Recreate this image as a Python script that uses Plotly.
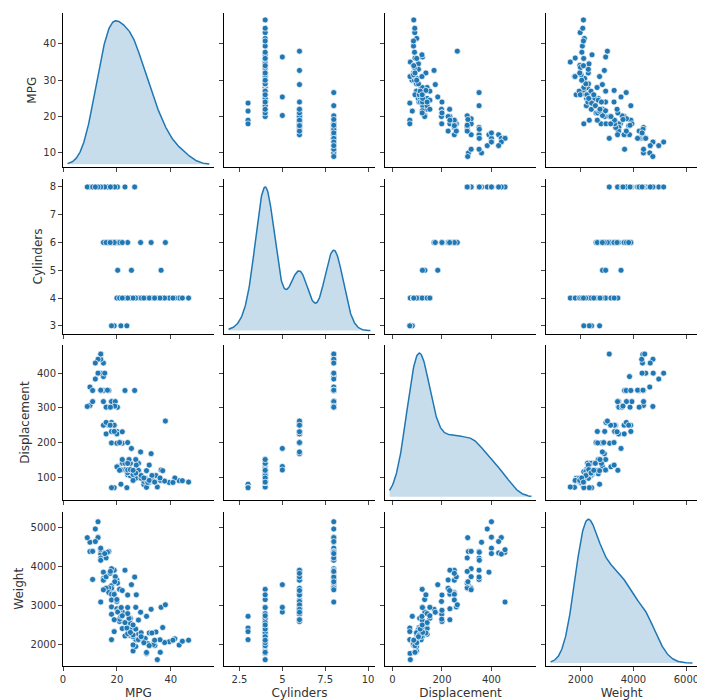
import numpy as np
import plotly.graph_objects as go
from plotly.subplots import make_subplots

# values (subset of the auto-mpg cars)
mpg = [18, 15, 18, 16, 17, 15, 14, 14, 14, 15, 24, 22, 18, 21, 27, 26, 25, 24, 25, 26,
       21, 10, 10, 11, 9, 27, 28, 25, 19, 16, 17, 19, 18, 14, 14, 14, 13, 12, 13, 18,
       22, 19, 18, 23, 28, 30, 30, 31, 35, 27, 26, 24, 29, 20, 19, 15, 24, 20, 11, 20,
       21, 19, 15, 31, 26, 32, 25, 16, 16, 18, 17, 19.4, 20.2, 25.4, 20.3, 36.4, 21.5, 23.7, 19, 18,
       30.5, 36.1, 39.4, 43.1, 41.5, 46.6, 44.3, 40.8, 37, 34.1, 38, 32.7, 28.8, 26.6, 23, 34.5,
       37.7, 32, 28, 31, 27, 33, 21.6, 20, 21, 17.5, 16.5, 15.5, 19.2, 24, 27.2, 14,
       29, 33.5, 24.5, 22, 13, 12, 17.6, 26, 36, 31.5,
       23, 25, 27, 29, 32, 30, 26, 24, 34, 22]
cylinders = [8, 8, 8, 8, 8, 8, 8, 8, 8, 8, 4, 6, 6, 6, 4, 4, 4, 4, 4, 4,
             6, 8, 8, 8, 8, 4, 4, 4, 6, 6, 6, 6, 6, 8, 8, 8, 8, 8, 8, 6,
             4, 6, 6, 4, 4, 4, 4, 4, 4, 4, 4, 4, 4, 6, 6, 8, 4, 6, 8, 6,
             6, 6, 6, 4, 4, 4, 4, 6, 8, 8, 8, 8, 8, 5, 5, 5, 3, 3, 3, 3,
             4, 4, 4, 4, 4, 4, 4, 4, 4, 4, 6, 6, 6, 8, 8, 4,
             4, 4, 4, 4, 4, 4, 4, 4, 4, 6, 8, 8, 8, 6, 4, 8,
             4, 4, 4, 6, 8, 8, 8, 4, 4, 4,
             4, 4, 4, 4, 4, 4, 4, 4, 4, 4]
displacement = [307, 350, 318, 304, 302, 429, 454, 440, 455, 390, 113, 198, 199, 200, 97, 97, 110, 107, 104, 121,
                199, 360, 307, 318, 304, 97, 140, 113, 232, 225, 250, 250, 232, 350, 400, 351, 400, 383, 400, 258,
                140, 250, 250, 122, 116, 79, 88, 71, 72, 97, 91, 113, 98, 232, 250, 318, 121, 225, 350, 198,
                200, 232, 250, 91, 116, 85, 140, 258, 302, 318, 350, 318, 302, 183, 131, 121, 80, 70, 70, 70,
                98, 91, 85, 90, 98, 86, 90, 85, 119, 86, 262, 168, 173, 350, 350, 105,
                89, 135, 120, 119, 151, 105, 121, 130, 120, 250, 351, 400, 305, 200, 135, 455,
                97, 89, 151, 231, 440, 429, 302, 108, 98, 85,
                140, 122, 112, 105, 91, 98, 120, 140, 86, 151]
weight = [3504, 3693, 3436, 3433, 3449, 4341, 4354, 4312, 4425, 3850, 2372, 2833, 2774, 2587, 2130, 1835, 2672, 2430, 2375, 2234,
          2648, 4615, 4376, 4382, 4732, 2130, 2264, 2228, 2634, 3439, 3329, 3302, 3288, 4209, 4464, 4154, 4746, 4955, 5140, 2962,
          2408, 3282, 3139, 2220, 2123, 2074, 2065, 1773, 1613, 1950, 1990, 2278, 2219, 2914, 3897, 3399, 2945, 3651, 3664, 3102,
          2875, 3901, 3645, 1795, 2202, 1990, 2542, 3730, 4215, 3940, 4380, 3735, 3570, 3530, 2830, 2950, 2720, 2420, 2330, 2124,
          2155, 1800, 2070, 1985, 2144, 2110, 2085, 2110, 2434, 1975, 3015, 2900, 2825, 3725, 3900, 2320,
          2050, 2295, 2625, 2720, 2950, 2295, 2945, 3150, 3410, 3820, 4360, 4325, 3605, 3265, 3270, 3086,
          2300, 2000, 2670, 3380, 4735, 4633, 3870, 2245, 2120, 2020,
          2560, 2310, 2395, 2200, 1970, 2045, 2500, 2790, 2110, 2735]

names = ["MPG", "Cylinders", "Displacement", "Weight"]
cols = [mpg, cylinders, displacement, weight]
xranges = [[0, 56], [1.6, 10.4], [-30, 580], [700, 6400]]
yranges = [[6, 48.5], [2.72, 8.28], [35, 480], [1450, 5400]]
xticks = [[0, 20, 40], [2.5, 5.0, 7.5, 10.0], [0, 200, 400], [2000, 4000, 6000]]
yticks = [[10, 20, 30, 40], [3, 4, 5, 6, 7, 8], [100, 200, 300, 400], [2000, 3000, 4000, 5000]]
blue = "#1f77b4"


def kde(v, grid, scale):
    v = np.asarray(v, float)
    bw = scale * v.std(ddof=1) * len(v) ** (-1 / 5)
    d = np.exp(-0.5 * ((grid[:, None] - v[None, :]) / bw) ** 2).sum(axis=1)
    return d / d.max()


bw_scale = [1.1, 0.85, 1.0, 1.1]

fig = make_subplots(rows=4, cols=4, horizontal_spacing=0.016, vertical_spacing=0.018)

for r in range(4):
    for c in range(4):
        if r == c:
            g = np.linspace(xranges[c][0] + 0.03 * (xranges[c][1] - xranges[c][0]),
                            xranges[c][1] - 0.03 * (xranges[c][1] - xranges[c][0]), 300)
            lo, hi = yranges[r]
            base = lo + 0.02 * (hi - lo)
            dens = base + kde(cols[c], g, bw_scale[c]) * (hi - lo) * 0.93
            fig.add_trace(go.Scatter(x=g, y=[base] * len(g), mode="lines",
                                     line=dict(width=0), hoverinfo="skip"), row=r + 1, col=c + 1)
            fig.add_trace(go.Scatter(x=g, y=dens, mode="lines", fill="tonexty",
                                     fillcolor="rgba(31,119,180,0.25)",
                                     line=dict(color=blue, width=1.5)), row=r + 1, col=c + 1)
        else:
            fig.add_trace(go.Scatter(x=cols[c], y=cols[r], mode="markers",
                                     marker=dict(color=blue, size=6,
                                                 line=dict(color="white", width=0.7))),
                          row=r + 1, col=c + 1)
        fig.update_xaxes(range=xranges[c], tickvals=xticks[c], showticklabels=(r == 3),
                         title_text=names[c] if r == 3 else None, row=r + 1, col=c + 1)
        fig.update_yaxes(range=yranges[r], tickvals=yticks[r], showticklabels=(c == 0),
                         title_text=names[r] if c == 0 else None, row=r + 1, col=c + 1)

fig.update_xaxes(showline=True, linecolor="black", linewidth=1, ticks="outside",
                 ticklen=4, showgrid=False, zeroline=False, title_standoff=4)
fig.update_yaxes(showline=True, linecolor="black", linewidth=1, ticks="outside",
                 ticklen=4, showgrid=False, zeroline=False, title_standoff=4)
fig.update_layout(width=705, height=700, showlegend=False, plot_bgcolor="white",
                  paper_bgcolor="white", margin=dict(l=55, r=16, t=5, b=42),
                  font=dict(family="DejaVu Sans", size=10, color="#333"))
fig.write_html("out.html")
